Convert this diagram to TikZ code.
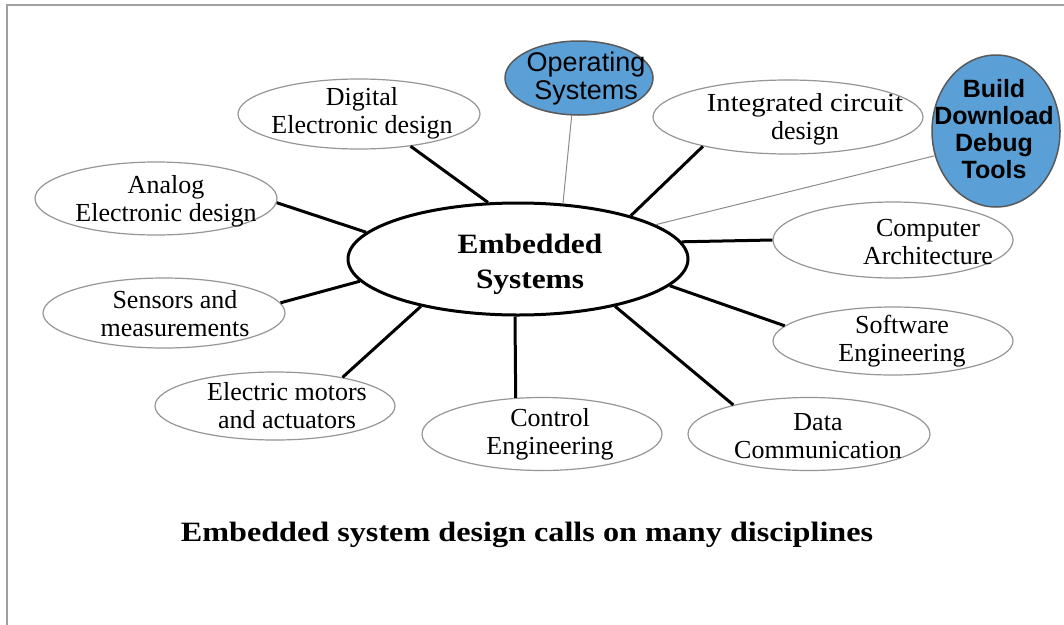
\documentclass[tikz,border=0pt]{standalone}
\usepackage{fontspec}
\setmainfont{Liberation Serif}
\newfontfamily\arialf{Liberation Sans}
\usepackage{graphicx}
\usetikzlibrary{shapes.geometric}
\definecolor{bluefill}{RGB}{90,160,215}
\definecolor{ovalline}{RGB}{150,150,150}
\definecolor{framegray}{RGB}{160,160,160}
\begin{document}
\begin{tikzpicture}[x=1pt,y=-1pt,
  disc/.style={ellipse, draw=ovalline, line width=1.2pt, fill=white, inner sep=0pt},
  blueov/.style={ellipse, draw=black!65, line width=1.5pt, fill=bluefill, inner sep=0pt},
  hub/.style={ellipse, draw=black, line width=3pt, fill=white, inner sep=0pt},
  lbl/.style={align=center, font=\fontsize{26}{28}\selectfont, inner sep=0pt},
  sanslbl/.style={align=center, inner sep=0pt},
  heavy/.style={line width=3pt, black},
  faint/.style={line width=1pt, black!45}
]
\useasboundingbox (0,0) rectangle (1064,624);
\fill[white] (0,0) rectangle (1064,624);
\draw[framegray, line width=1.2pt] (7,640) -- (7,5) -- (1080,5);

% discipline ellipses
\node[disc, minimum width=242pt, minimum height=70pt] (dig) at (359,114) {};
\node[disc, minimum width=242pt, minimum height=73pt] (ana) at (156,198.5) {};
\node[disc, minimum width=242pt, minimum height=70pt] (sen) at (164,313) {};
\node[disc, minimum width=240pt, minimum height=68pt] (ele) at (275,406) {};
\node[disc, minimum width=240pt, minimum height=73pt] (ctl) at (542,434) {};
\node[disc, minimum width=242pt, minimum height=73pt] (dat) at (809,434) {};
\node[disc, minimum width=240pt, minimum height=68pt] (sof) at (893,341) {};
\node[disc, minimum width=240pt, minimum height=76pt] (com) at (893,240) {};
\node[disc, minimum width=270pt, minimum height=74pt] (ic) at (788,117) {};
\node[blueov, minimum width=148pt, minimum height=74pt] (os) at (579,78) {};
\node[blueov, minimum width=128pt, minimum height=152pt] (bd) at (996,131) {};
\node[hub, minimum width=340pt, minimum height=112pt] (es) at (518,259) {};

% connectors
\draw[heavy] (es.118.5) -- (dig.-32);
\draw[faint] (es.51) -- (os.-101);
\draw[heavy] (es.21.8) -- (ic.199);
\draw[faint] (es.14.8) -- (bd.202);
\draw[heavy] (es.6.7) -- (com.180);
\draw[heavy] (es.-10.2) -- (sof.172);
\draw[heavy] (es.-26.3) -- (dat.159);
\draw[heavy] (es.-93) -- (ctl.126);
\draw[heavy] (es.206) -- (ele.23);
\draw[heavy] (es.188.8) -- (sen.5);
\draw[heavy] (es.170.2) -- (ana.-2);

% labels
\node[lbl] (dig-t) at (362,113) {Digital\\Electronic design};
\node[lbl] (ana-t) at (166,201) {Analog\\Electronic design};
\node[lbl] (sen-t) at (175,313.5) {Sensors and\\measurements};
\node[lbl] (ele-t) at (287,406) {Electric motors\\and actuators};
\node[lbl] (ctl-t) at (550,434) {Control\\Engineering};
\node[lbl] (dat-t) at (818,436) {Data\\Communication};
\node[lbl] (sof-t) at (902,341) {Software\\Engineering};
\node[lbl] (com-t) at (928,242.5) {Computer\\Architecture};
\node[lbl] (ic-t) at (805,119) {\scalebox{1.1}[1]{Integrated circuit}\\design};
\node[sanslbl, font=\arialf\fontsize{27}{28}\selectfont] (os-t) at (586,79) {Operating\\Systems};
\node[sanslbl, font=\arialf\bfseries\fontsize{25}{27}\selectfont] (bd-t) at (994,129.5) {Build\\Download\\Debug\\Tools};
\node[align=center, inner sep=0pt, font=\bfseries\fontsize{28}{35}\selectfont] (es-t) at (530,264.5) {\scalebox{1.12}[1]{Embedded}\\\scalebox{1.12}[1]{Systems}};
\node[inner sep=0pt, font=\bfseries\fontsize{28}{30}\selectfont] (cap) at (527,535) {\scalebox{1.15}[1]{Embedded system design calls on many disciplines}};
\end{tikzpicture}
\end{document}
